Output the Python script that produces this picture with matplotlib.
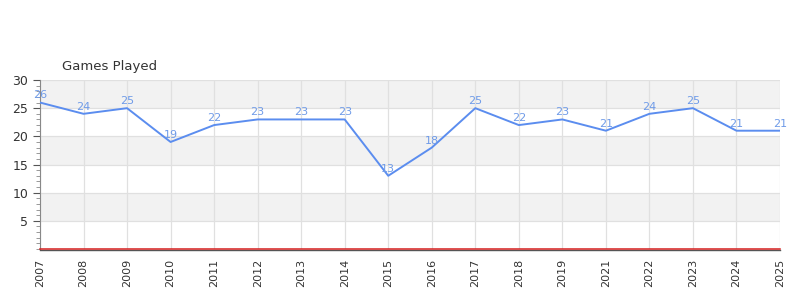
import matplotlib
matplotlib.use("Agg")
import matplotlib.pyplot as plt
from matplotlib.ticker import MultipleLocator

years = ["2007", "2008", "2009", "2010", "2011", "2012", "2013", "2014", "2015",
         "2016", "2017", "2018", "2019", "2021", "2022", "2023", "2024", "2025"]
games = [26, 24, 25, 19, 22, 23, 23, 23, 13, 18, 25, 22, 23, 21, 24, 25, 21, 21]
bands = [(5, 10), (15, 20), (25, 30)]

line_col = "#5b8def"
label_col = "#6f9be8"

fig = plt.figure(figsize=(8, 3), dpi=100)
ax = fig.add_axes([0.05, 0.17, 0.925, 0.5633])

# spines first (set_position resets tick settings)
for s in ["top", "right"]:
    ax.spines[s].set_visible(False)
ax.spines["bottom"].set_position(("outward", 1))
ax.spines["left"].set_color("#888888")
ax.spines["bottom"].set_color("#555555")
ax.spines["bottom"].set_linewidth(1.0)

for lo, hi in bands:
    ax.axhspan(lo, hi, color="#f2f2f2", zorder=0, lw=0)

x = list(range(len(years)))
ax.plot(x, games, color=line_col, lw=1.4, zorder=3)
for xi, v in zip(x, games):
    ax.annotate(str(v), (xi, v), xytext=(0, 1.5), textcoords="offset points",
                ha="center", va="bottom", fontsize=8, color=label_col, zorder=4)

ax.axhline(0, color="#d62020", lw=1.1, zorder=5, clip_on=False)

ax.set_xlim(0, len(years) - 1)
ax.set_ylim(0, 30)
ax.set_xticks(x)
ax.set_xticklabels(years, rotation=90, fontsize=8, color="#333333")
ax.set_yticks([5, 10, 15, 20, 25, 30])
ax.yaxis.set_minor_locator(MultipleLocator(1))
ax.tick_params(axis="y", labelsize=9, colors="#555555", length=5, width=0.8)
ax.tick_params(axis="y", which="minor", length=3, color="#888888")
ax.tick_params(axis="y", labelcolor="#333333")
ax.tick_params(axis="x", length=0, pad=6)

ax.grid(True, color="#e0e0e0", lw=0.9, zorder=1)
ax.set_axisbelow(True)

ax.set_title("Games Played", loc="left", fontsize=9.5, color="#333333", x=0.03, pad=7)

fig.savefig("out.png", dpi=100)
